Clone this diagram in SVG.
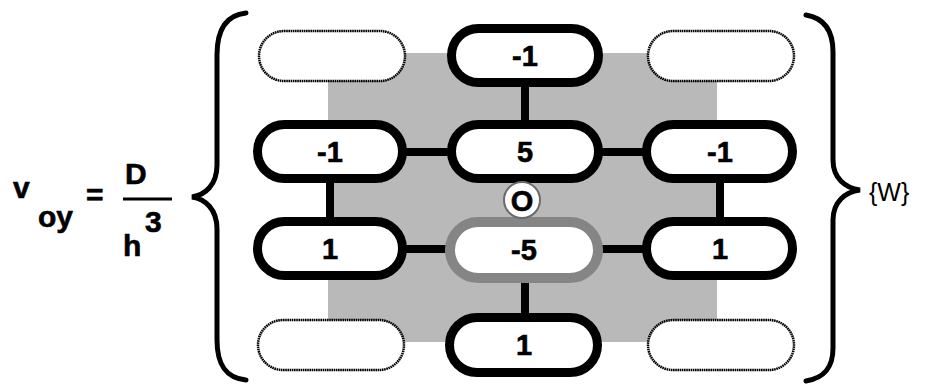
<svg xmlns="http://www.w3.org/2000/svg" width="931" height="388" viewBox="0 0 931 388">
<style>
.pill{fill:#fff;stroke:#000;stroke-width:9}
.empty{fill:#fff;stroke:#000;stroke-width:2.5;stroke-dasharray:1.6 0.6}
.hot{fill:#fff;stroke:#858585;stroke-width:10}
.num{font-family:"Liberation Sans",Arial,sans-serif;font-weight:bold;font-size:29px;text-anchor:middle;fill:#000;stroke:#000;stroke-width:0.6}
.eq{font-family:"Liberation Sans",Arial,sans-serif;font-weight:bold;font-size:30px;fill:#000;stroke:#000;stroke-width:0.6}
.conn{stroke:#000;stroke-width:8;fill:none}
.brace{stroke:#000;stroke-width:5;fill:none;stroke-linecap:round}
</style>
<rect width="931" height="388" fill="#fff"/>
<rect id="shade" x="328" y="53" width="389" height="289" fill="#b9b9b9"/>
<g id="connectors">
<line class="conn" x1="525" y1="80" x2="525" y2="128"/>
<line class="conn" x1="400" y1="152" x2="455" y2="152"/>
<line class="conn" x1="595" y1="152" x2="650" y2="152"/>
<line class="conn" x1="330" y1="176" x2="330" y2="225"/>
<line class="conn" x1="720" y1="176" x2="720" y2="225"/>
<line class="conn" x1="400" y1="249" x2="455" y2="249"/>
<line class="conn" x1="595" y1="249" x2="650" y2="249"/>
<line class="conn" x1="525" y1="275" x2="525" y2="321"/>
</g>
<g id="n-tl"><rect class="empty" x="259" y="31" width="146" height="50" rx="25"/></g>
<g id="n-tr"><rect class="empty" x="648" y="31" width="146" height="50" rx="25"/></g>
<g id="n-bl"><rect class="empty" x="258" y="320" width="146" height="50" rx="25"/></g>
<g id="n-br"><rect class="empty" x="648" y="320" width="146" height="50" rx="25"/></g>
<g id="n-top"><rect class="pill" x="451.5" y="28.5" width="147" height="54" rx="27"/><text class="num" x="525" y="66">-1</text></g>
<g id="n-ml"><rect class="pill" x="257.5" y="124.5" width="145" height="54" rx="27"/><text class="num" x="330" y="162">-1</text></g>
<g id="n-mc"><rect class="pill" x="451.5" y="124.5" width="147" height="54" rx="27"/><text class="num" x="525" y="162">5</text></g>
<g id="n-mr"><rect class="pill" x="646.5" y="124.5" width="146" height="54" rx="27"/><text class="num" x="720" y="162">-1</text></g>
<g id="n-ll"><rect class="pill" x="257.5" y="221.5" width="145" height="54" rx="27"/><text class="num" x="330" y="259">1</text></g>
<g id="n-lc"><rect class="hot" x="450" y="222" width="148" height="56" rx="28"/><text class="num" x="524" y="260">-5</text></g>
<g id="n-lr"><rect class="pill" x="646.5" y="221.5" width="146" height="54" rx="27"/><text class="num" x="720" y="259">1</text></g>
<g id="n-bot"><rect class="pill" x="449.5" y="317.5" width="148" height="55" rx="27.5"/><text class="num" x="524" y="355">1</text></g>
<g id="origin"><circle cx="522" cy="200" r="18" fill="#fff" stroke="#6a6a6a" stroke-width="2"/><text class="num" x="522" y="211" font-size="29">O</text></g>
<g id="braces">
<path class="brace" d="M246,13 C226,15 217,30 217,55 L217,165 C217,185 205,195 192,197 C205,199 217,209 217,229 L217,340 C217,365 226,378 246,380"/>
<path class="brace" d="M806,15 C824,18 833,30 833,52 L833,160 C833,178 845,188 860,190 C845,192 833,202 833,220 L833,348 C833,368 824,378 806,381"/>
</g>
<g id="equation">
<text class="eq" x="13" y="198">v</text>
<text class="eq" x="38" y="227">oy</text>
<text class="eq" x="86" y="205">=</text>
<text class="eq" x="125" y="184" font-size="31">D</text>
<line x1="123" y1="199" x2="172" y2="199" stroke="#000" stroke-width="3"/>
<text class="eq" x="145" y="232">3</text>
<text class="eq" x="123" y="256">h</text>
</g>
<text x="869" y="201" font-family="Liberation Sans,Arial,sans-serif" font-size="25" fill="#000">{W}</text>
</svg>
